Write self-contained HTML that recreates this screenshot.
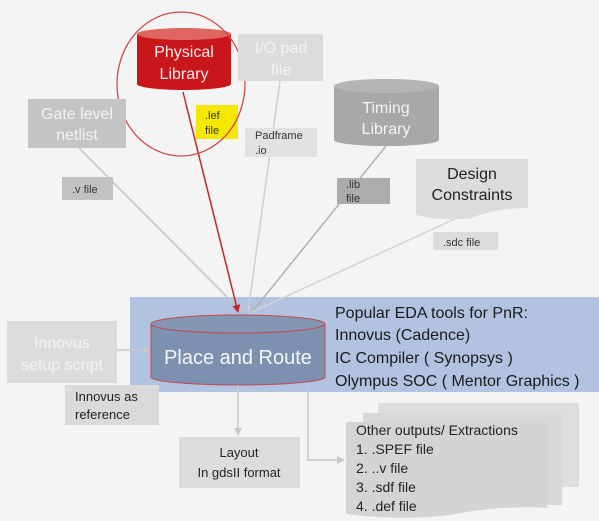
<!DOCTYPE html>
<html><head><style>
html,body{margin:0;padding:0;background:#f4f4f4;}
svg{display:block;font-family:"Liberation Sans",sans-serif;}
</style></head><body>
<svg width="599" height="521" viewBox="0 0 599 521" xmlns="http://www.w3.org/2000/svg">
<defs>
<marker id="ag" markerWidth="8" markerHeight="8" refX="7" refY="4" orient="auto" markerUnits="userSpaceOnUse"><path d="M0,0 L8,4 L0,8 z" fill="#c8c8c8"/></marker>
<marker id="ar" markerWidth="8" markerHeight="8" refX="7" refY="4" orient="auto" markerUnits="userSpaceOnUse"><path d="M0,0 L8,4 L0,8 z" fill="#c0282a"/></marker>
</defs>
<rect width="599" height="521" fill="#f4f4f4"/>
<!-- blue panel -->
<rect x="130" y="297" width="469" height="95" fill="#b1c3e1"/>
<!-- connector lines -->
<line x1="79" y1="148" x2="242" y2="312" stroke="#c4c4c4" stroke-width="1.5"/>
<line x1="280" y1="81" x2="248" y2="312" stroke="#d0d0d0" stroke-width="1.5"/>
<line x1="386" y1="146" x2="252" y2="312" stroke="#b0b0b0" stroke-width="1.5"/>
<line x1="470" y1="212" x2="252" y2="312" stroke="#d4d4d4" stroke-width="1.5"/>
<line x1="183" y1="92" x2="238" y2="312" stroke="#c0282a" stroke-width="1.5" marker-end="url(#ar)"/>
<!-- labels on lines -->
<rect x="62" y="177" width="51" height="23" fill="#c2c2c2"/>
<text x="72" y="193" font-size="11" fill="#333">.v file</text>
<rect x="196" y="105" width="42" height="34" fill="#f5e800"/>
<text x="205" y="119" font-size="11" fill="#333">.lef</text>
<text x="205" y="134" font-size="11" fill="#333">file</text>
<rect x="245" y="128" width="72" height="29" fill="#e2e2e2"/>
<text x="255" y="139" font-size="11" fill="#333">Padframe</text>
<text x="255" y="154" font-size="11" fill="#333">.io</text>
<rect x="337" y="178" width="53" height="26" fill="#acacac"/>
<text x="346" y="188" font-size="11" fill="#333">.lib</text>
<text x="346" y="202" font-size="11" fill="#333">file</text>
<rect x="433" y="232" width="65" height="18" fill="#dcdcdc"/>
<text x="443" y="246" font-size="11" fill="#333">.sdc file</text>
<!-- physical library -->
<path d="M137,34 L137,84 A47,6 0 0 0 231,84 L231,34 Z" fill="#c8161b"/>
<ellipse cx="184" cy="34" rx="47" ry="6" fill="#e06460"/>
<text x="184" y="57" font-size="16" fill="#fbeaea" text-anchor="middle">Physical</text>
<text x="184" y="79" font-size="16" fill="#fbeaea" text-anchor="middle">Library</text>
<ellipse cx="181" cy="84" rx="64" ry="72" fill="none" stroke="#d04848" stroke-width="1.3"/>
<!-- I/O pad -->
<rect x="238" y="34" width="85" height="47" fill="#dcdcdc"/>
<text x="281" y="53" font-size="16" fill="#f3f3f3" text-anchor="middle">I/O pad</text>
<text x="281" y="75" font-size="16" fill="#f3f3f3" text-anchor="middle">file</text>
<!-- gate -->
<rect x="28" y="99" width="98" height="49" fill="#c4c4c4"/>
<text x="77" y="119" font-size="16" fill="#f2f2f2" text-anchor="middle">Gate level</text>
<text x="77" y="140" font-size="16" fill="#f2f2f2" text-anchor="middle">netlist</text>
<!-- timing -->
<path d="M334,86 L334,140 A52,6 0 0 0 439,140 L439,86 Z" fill="#a8a8a8"/>
<ellipse cx="386.5" cy="86" rx="52.5" ry="7" fill="#b4b4b4"/>
<text x="386" y="113" font-size="16" fill="#f4f4f4" text-anchor="middle">Timing</text>
<text x="386" y="134" font-size="16" fill="#f4f4f4" text-anchor="middle">Library</text>
<!-- design constraints -->
<path d="M416,159 L528,159 L528,208 Q495,208 472,218 Q445,222 416,215 Z" fill="#dcdcdc"/>
<text x="472" y="179" font-size="16" fill="#222" text-anchor="middle">Design</text>
<text x="472" y="200" font-size="16" fill="#222" text-anchor="middle">Constraints</text>
<!-- setup script -->
<rect x="7" y="321" width="110" height="62" fill="#dcdcdc"/>
<text x="62" y="348" font-size="16" fill="#f3f3f3" text-anchor="middle">Innovus</text>
<text x="62" y="370" font-size="16" fill="#f3f3f3" text-anchor="middle">setup script</text>
<line x1="117" y1="350" x2="150" y2="350" stroke="#c8c8c8" stroke-width="1.5" marker-end="url(#ag)"/>
<!-- place and route -->
<path d="M151,324 L151,377 A87,8 0 0 0 325,377 L325,324 Z" fill="#7c90b0" stroke="#c8464a" stroke-width="1"/>
<ellipse cx="238" cy="324" rx="87" ry="9" fill="#8396b4" stroke="#c8464a" stroke-width="1"/>
<text x="238" y="364" font-size="20" fill="#f4f6fa" text-anchor="middle">Place and Route</text>
<!-- right text -->
<g font-size="16" fill="#1a1a1a">
<text x="335" y="318">Popular EDA tools for PnR:</text>
<text x="335" y="340">Innovus (Cadence)</text>
<text x="335" y="363">IC Compiler ( Synopsys )</text>
<text x="335" y="386">Olympus SOC ( Mentor Graphics )</text>
</g>
<!-- innovus ref -->
<rect x="65" y="385" width="94" height="40" fill="#dadada"/>
<text x="75" y="401" font-size="13" fill="#222">Innovus as</text>
<text x="75" y="419" font-size="13" fill="#222">reference</text>
<!-- down arrows -->
<line x1="238" y1="385" x2="238" y2="435" stroke="#c8c8c8" stroke-width="1.5" marker-end="url(#ag)"/>
<polyline points="308,385 308,460 344,460" fill="none" stroke="#c8c8c8" stroke-width="1.5" marker-end="url(#ag)"/>
<!-- layout -->
<rect x="179" y="437" width="121" height="51" fill="#dcdcdc"/>
<text x="239" y="457" font-size="13" fill="#222" text-anchor="middle">Layout</text>
<text x="239" y="477" font-size="13" fill="#222" text-anchor="middle">In gdsII format</text>
<!-- other outputs -->
<rect x="378" y="403" width="201" height="84" fill="#dedede"/>
<rect x="363" y="413" width="199" height="92" fill="#d8d8d8"/>
<path d="M346,422 L547,422 L547,508 Q500,505 450,515 Q400,521 346,514 Z" fill="#d4d4d4"/>
<g font-size="14" fill="#222">
<text x="356" y="435">Other  outputs/ Extractions</text>
<text x="356" y="454">1. .SPEF file</text>
<text x="356" y="473">2. ..v file</text>
<text x="356" y="492">3. .sdf file</text>
<text x="356" y="511">4. .def file</text>
</g>
</svg>
</body></html>
